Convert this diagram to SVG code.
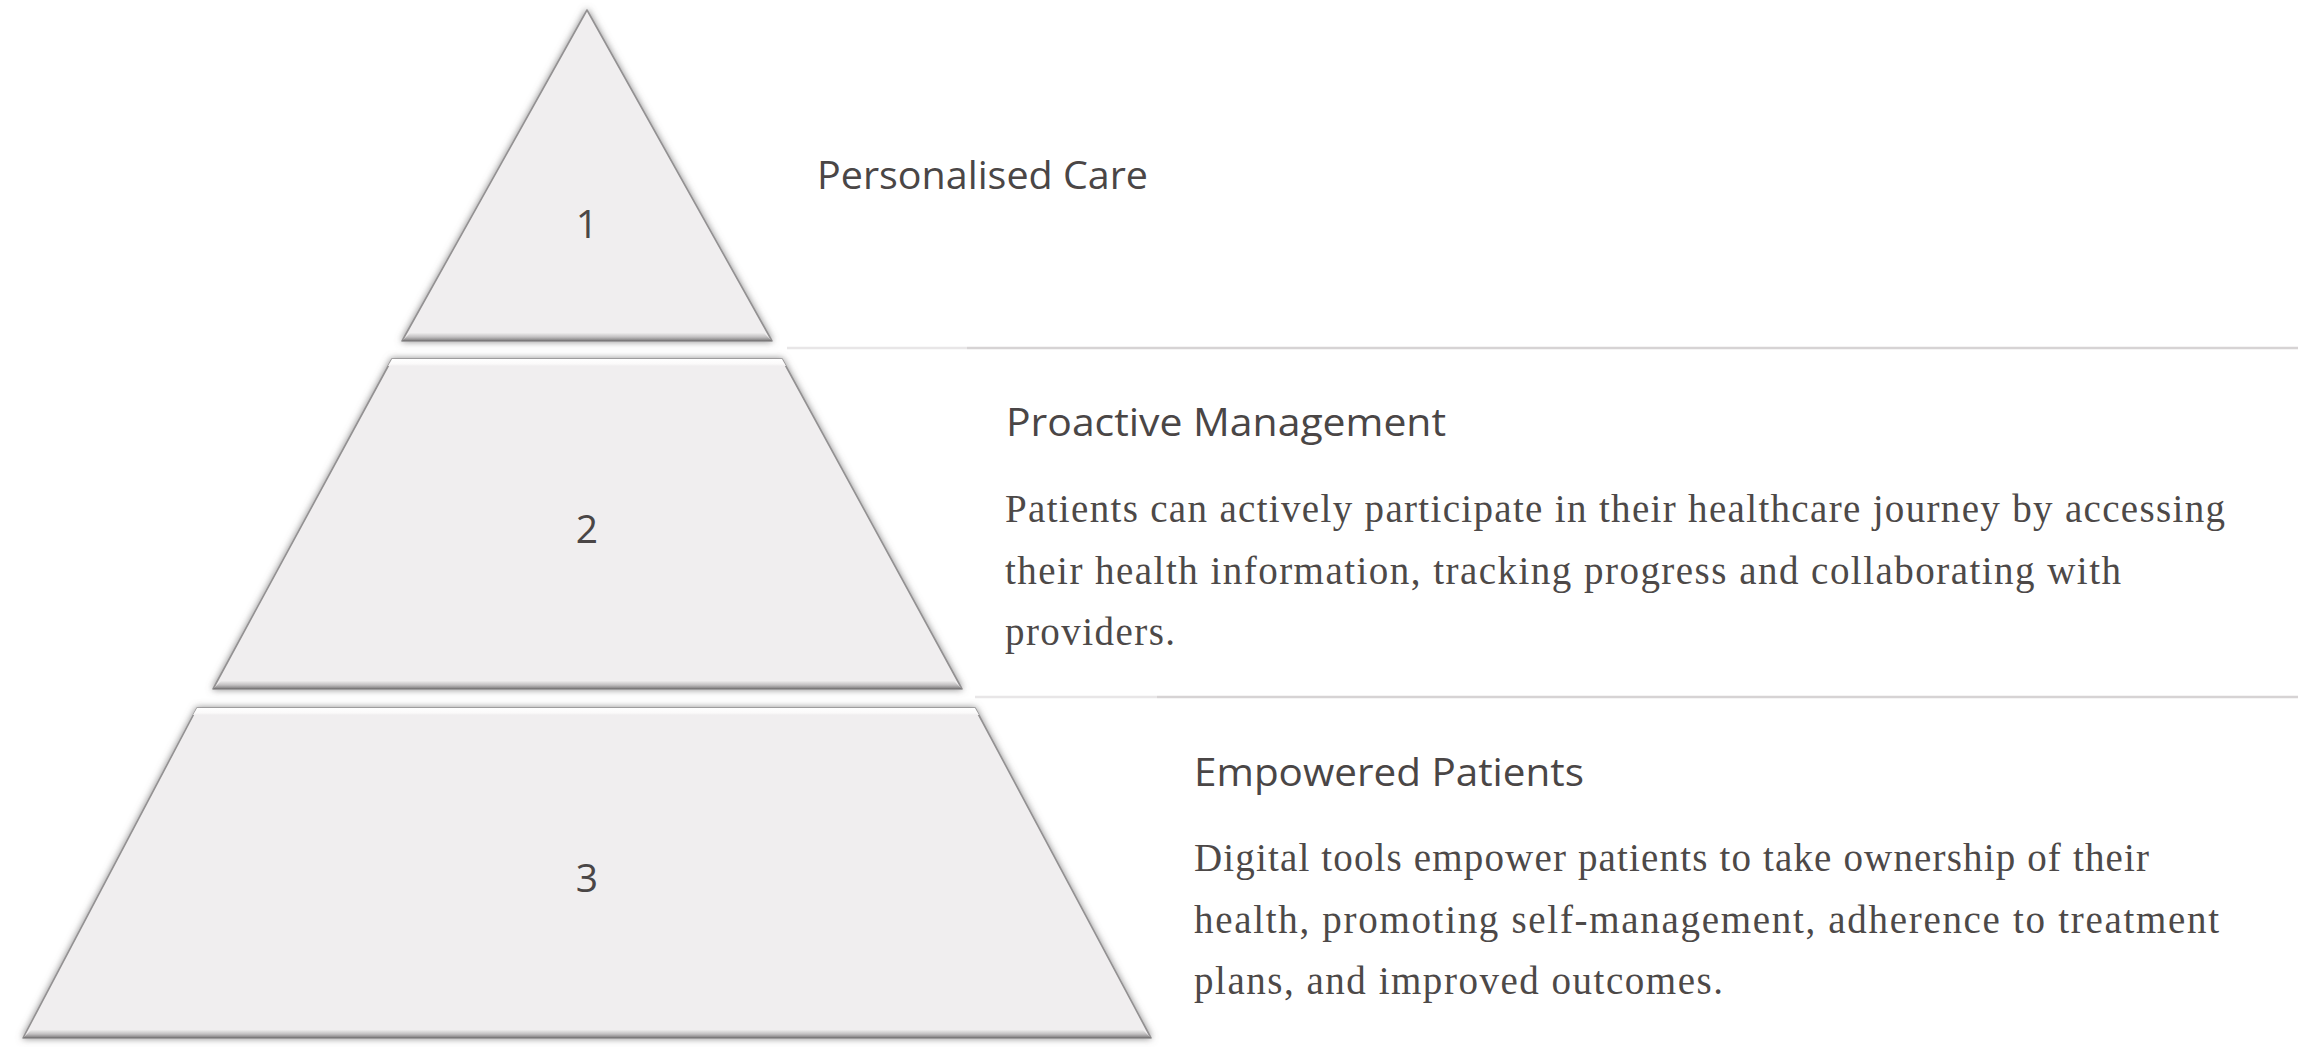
<svg xmlns="http://www.w3.org/2000/svg" width="2323" height="1047" viewBox="0 0 2323 1047">
  <defs>
    <filter id="sh" x="-10%" y="-10%" width="120%" height="120%">
      <feGaussianBlur in="SourceAlpha" stdDeviation="3.5" result="b"/>
      <feFlood flood-color="#6f6d6e" flood-opacity="0.8"/>
      <feComposite in2="b" operator="in" result="s"/>
      <feMerge><feMergeNode in="s"/><feMergeNode in="SourceGraphic"/></feMerge>
    </filter>
    <linearGradient id="bevel" x1="0" y1="0" x2="0" y2="1">
      <stop offset="0" stop-color="#ecebeb"/>
      <stop offset="0.5" stop-color="#c2c0c1"/>
      <stop offset="0.8" stop-color="#979596"/>
      <stop offset="1" stop-color="#6f6d6e"/>
    </linearGradient>
    <linearGradient id="topband" x1="0" y1="0" x2="0" y2="1">
      <stop offset="0" stop-color="#ffffff"/>
      <stop offset="0.7" stop-color="#fbfafa"/>
      <stop offset="1" stop-color="#f0eeef"/>
    </linearGradient>
  </defs>
  <style>
    .shape { fill: #f0eeef; stroke: #939192; stroke-width: 1.6; stroke-linejoin: round; }
    .bev { fill: url(#bevel); }
    .top { fill: url(#topband); }
    .num { font-family: "Open Sans", "Noto Sans", sans-serif; font-size: 39px; fill: #4a4646; text-anchor: middle; }
    .head { font-family: "Open Sans", "Noto Sans", sans-serif; font-size: 38px; fill: #4a4646; }
    .body { font-family: "Liberation Serif", "Times New Roman", serif; font-size: 39px; fill: #4d4948; }
    .div1 { stroke: #d6d3d4; stroke-width: 2.5; }
    .div2 { stroke: #e8e6e7; stroke-width: 2.5; }
  </style>
  <rect width="2323" height="1047" fill="#ffffff"/>

  <g id="dividers">
    <line class="div2" x1="787" y1="348" x2="967" y2="348"/>
    <line class="div1" x1="967" y1="348" x2="2298" y2="348"/>
    <line class="div2" x1="975" y1="697" x2="1157" y2="697"/>
    <line class="div1" x1="1157" y1="697" x2="2298" y2="697"/>
  </g>

  <g id="level1">
    <polygon class="shape" filter="url(#sh)" points="587,10 402,341 772,341"/>
    <polygon class="bev" points="402,341 772,341 764,333 410,333"/>
    <text class="num" x="587" y="238">1</text>
    <text class="head" x="817" y="189" textLength="331" lengthAdjust="spacingAndGlyphs">Personalised Care</text>
  </g>

  <g id="level2">
    <polygon class="shape" filter="url(#sh)" points="392,359 782,359 962,689 213,689"/>
    <polygon class="top" points="392,359 782,359 786,366 388,366"/>
    <polygon class="bev" points="213,689 962,689 954,681 221,681"/>
    <text class="num" x="587" y="543">2</text>
    <text class="head" x="1006" y="436" textLength="440" lengthAdjust="spacingAndGlyphs">Proactive Management</text>
    <text class="body" x="1005" y="522" textLength="1220">Patients can actively participate in their healthcare journey by accessing</text>
    <text class="body" x="1005" y="583.5" textLength="1116">their health information, tracking progress and collaborating with</text>
    <text class="body" x="1005" y="645" textLength="170">providers.</text>
  </g>

  <g id="level3">
    <polygon class="shape" filter="url(#sh)" points="197,708 975,708 1151,1038 23,1038"/>
    <polygon class="top" points="197,708 975,708 979,715 193,715"/>
    <polygon class="bev" points="23,1038 1151,1038 1143,1030 31,1030"/>
    <text class="num" x="587" y="892">3</text>
    <text class="head" x="1194" y="786" textLength="390" lengthAdjust="spacingAndGlyphs">Empowered Patients</text>
    <text class="body" x="1194" y="871" textLength="955">Digital tools empower patients to take ownership of their</text>
    <text class="body" x="1194" y="932.5" textLength="1025">health, promoting self-management, adherence to treatment</text>
    <text class="body" x="1194" y="994" textLength="529">plans, and improved outcomes.</text>
  </g>
</svg>
